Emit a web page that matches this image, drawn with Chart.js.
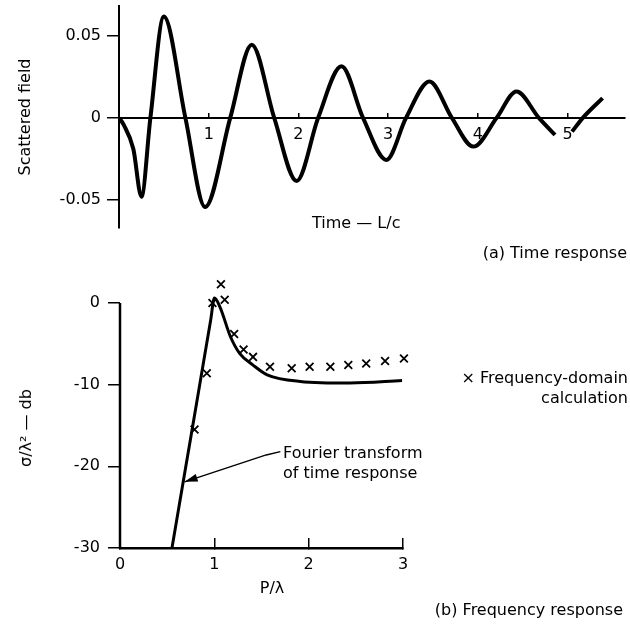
<!DOCTYPE html>
<html>
<head>
<meta charset="utf-8">
<script src="https://cdn.jsdelivr.net/npm/chart.js@4.4.1/dist/chart.umd.min.js"></script>
<style>
  body { margin: 0; background: #fff; }
  #page { position: relative; width: 630px; height: 624px; font-family: "DejaVu Sans", sans-serif; font-size: 16px; color: #000; }
  canvas { position: absolute; left: 0; }
  .lbl { position: absolute; white-space: nowrap; line-height: 20px; }
</style>
</head>
<body>
<div id="page">
  <canvas id="timeChart" width="630" height="260" style="top:0"></canvas>
  <canvas id="freqChart" width="630" height="364" style="top:260px"></canvas>
  <div class="lbl" style="left:312px; top:213px">Time — L/c</div>
  <div class="lbl" style="right:3px; top:243px">(a) Time response</div>
  <div class="lbl" style="left:26px; top:428px; transform:translate(-50%, -50%) rotate(-90deg)">σ/λ² — db</div>
  <div class="lbl" style="right:2px; top:368px; text-align:right">× Frequency-domain<br>calculation</div>
  <div class="lbl" style="left:283px; top:443px">Fourier transform<br>of time response</div>
  <div class="lbl" style="left:272px; top:578px; transform:translateX(-50%)">P/λ</div>
  <div class="lbl" style="right:7px; top:600px">(b) Frequency response</div>
</div>
<script>
// (a) time response (null = break in the trace near "5")
const timeX = [0, 0.05, 0.16, 0.25, 0.35, 0.50, 0.74, 0.96, 1.24, 1.48, 1.73, 1.98, 2.22, 2.48, 2.72,
  2.98, 3.20, 3.46, 3.71, 3.95, 4.21, 4.43, 4.68, 4.86, 4.95, 5.05, 5.17, 5.39];
const timeField = [0, -0.004, -0.019, -0.048, 0, 0.0616, 0, -0.0543, 0, 0.0445, 0, -0.0384, 0, 0.0313, 0,
  -0.0256, 0, 0.0221, 0, -0.0175, 0, 0.016, 0, -0.0104, null, -0.0084, 0, 0.012];
const timeTicksY = [-0.05, 0, 0.05];

// (b) frequency response: Fourier transform of time response (solid line)
const freqX = [0.551, 0.698, 0.845, 0.961, 1.001, 1.06, 1.17, 1.27, 1.41, 1.56, 1.91, 2.44, 2.99];
const freqDb = [-30, -20, -10, -2.1, 0.6, -0.5, -4.1, -6.2, -7.6, -8.8, -9.6, -9.8, -9.5];

// frequency-domain calculation (x markers)
const calcX = [0.79, 0.92, 0.98, 1.07, 1.11, 1.21, 1.31, 1.41, 1.59, 1.82, 2.01, 2.23, 2.42, 2.61, 2.81, 3.01];
const calcDb = [-15.5, -8.6, 0.0, 2.3, 0.4, -3.8, -5.7, -6.6, -7.8, -8.0, -7.8, -7.8, -7.6, -7.4, -7.1, -6.8];
const freqTicksY = [-30, -20, -10, 0];

// arrow from the "Fourier transform" note to the curve, in data units
const noteArrowX = [1.70, 1.55, 0.685];
const noteArrowY = [-18.2, -18.6, -21.9];

const font = { family: "'DejaVu Sans', sans-serif", size: 16 };
Chart.defaults.color = '#000';
Chart.defaults.font = font;

const pts = (xs, ys) => xs.map((x, i) => ({ x: x, y: ys[i] }));

new Chart(document.getElementById('timeChart'), {
  type: 'scatter',
  data: {
    datasets: [{
      data: pts(timeX, timeField),
      showLine: true,
      borderColor: '#000',
      borderWidth: 4,
      pointRadius: 0,
      cubicInterpolationMode: 'monotone',
      spanGaps: false
    }]
  },
  options: {
    responsive: false,
    animation: false,
    devicePixelRatio: 1,
    events: [],
    layout: { padding: { left: 0, right: 5, top: 6, bottom: 32 } },
    plugins: { legend: { display: false }, tooltip: { enabled: false } },
    scales: {
      x: {
        type: 'linear',
        position: { y: 0 },
        min: 0,
        max: 5.64,
        afterFit: s => { s.height = 0; },
        border: { color: '#000', width: 2 },
        grid: { drawOnChartArea: false, color: '#000', lineWidth: 1.5, tickLength: -6 },
        ticks: {
          stepSize: 1,
          includeBounds: false,
          padding: 13,
          maxRotation: 0,
          callback: v => (v === 0 ? '' : v)
        }
      },
      y: {
        position: 'left',
        min: -0.067,
        max: 0.068,
        afterFit: s => { s.width = 119; s.paddingTop = 0; s.paddingBottom = 0; },
        border: { color: '#000', width: 2 },
        grid: { drawOnChartArea: false, color: '#000', lineWidth: 1.5, tickLength: 12 },
        afterBuildTicks: s => { s.ticks = timeTicksY.map(v => ({ value: v })); },
        ticks: {
          padding: 6,
          callback: v => (Math.abs(v) < 1e-9 ? '0' : v.toFixed(2))
        },
        title: { display: true, text: 'Scattered field', font: font, padding: { top: 16, bottom: 0 } }
      }
    }
  }
});

// left axis of (b) only runs from 0 db down; the crosses above 0 still sit inside the plot area
const freqAxis = {
  id: 'freqAxis',
  beforeDatasetsDraw(chart) {
    const { ctx, scales: { x, y } } = chart;
    ctx.save();
    ctx.strokeStyle = '#000';
    ctx.lineWidth = 2.5;
    ctx.beginPath();
    ctx.moveTo(x.left, y.getPixelForValue(0));
    ctx.lineTo(x.left, y.getPixelForValue(-30) + 1);
    ctx.stroke();
    ctx.restore();
  }
};

const arrowNote = {
  id: 'arrowNote',
  afterDatasetsDraw(chart) {
    const { ctx, scales: { x, y } } = chart;
    const p = noteArrowX.map((v, i) => [x.getPixelForValue(v), y.getPixelForValue(noteArrowY[i])]);
    ctx.save();
    ctx.strokeStyle = '#000';
    ctx.fillStyle = '#000';
    ctx.lineWidth = 1.5;
    ctx.beginPath();
    p.forEach(([px, py], i) => (i ? ctx.lineTo(px, py) : ctx.moveTo(px, py)));
    ctx.stroke();
    const [x1, y1] = p[p.length - 2];
    const [x2, y2] = p[p.length - 1];
    const a = Math.atan2(y2 - y1, x2 - x1);
    ctx.beginPath();
    ctx.moveTo(x2, y2);
    ctx.lineTo(x2 - 13 * Math.cos(a) + 4 * Math.sin(a), y2 - 13 * Math.sin(a) - 4 * Math.cos(a));
    ctx.lineTo(x2 - 13 * Math.cos(a) - 4 * Math.sin(a), y2 - 13 * Math.sin(a) + 4 * Math.cos(a));
    ctx.closePath();
    ctx.fill();
    ctx.restore();
  }
};

new Chart(document.getElementById('freqChart'), {
  type: 'scatter',
  data: {
    datasets: [{
      label: 'Fourier transform of time response',
      data: pts(freqX, freqDb),
      showLine: true,
      borderColor: '#000',
      borderWidth: 3,
      pointRadius: 0,
      cubicInterpolationMode: 'monotone'
    }, {
      label: 'Frequency-domain calculation',
      data: pts(calcX, calcDb),
      pointStyle: 'crossRot',
      pointRadius: 5.5,
      borderColor: '#000',
      borderWidth: 1.8,
      clip: false
    }]
  },
  options: {
    responsive: false,
    animation: false,
    devicePixelRatio: 1,
    events: [],
    layout: { padding: { left: 0, right: 227, top: 18.5, bottom: 36 } },
    plugins: { legend: { display: false }, tooltip: { enabled: false } },
    scales: {
      x: {
        type: 'linear',
        position: 'bottom',
        min: 0,
        max: 3,
        afterFit: s => { s.height = 40; },
        border: { color: '#000', width: 2.5 },
        grid: { drawOnChartArea: false, color: '#000', lineWidth: 1.5, tickLength: -10 },
        ticks: { stepSize: 1, padding: 17, maxRotation: 0 }
      },
      y: {
        position: 'left',
        min: -30,
        max: 3,
        afterFit: s => { s.width = 120; s.paddingTop = 0; s.paddingBottom = 0; },
        border: { display: false },
        grid: { drawOnChartArea: false, color: '#000', lineWidth: 1.5, tickLength: 12 },
        afterBuildTicks: s => { s.ticks = freqTicksY.map(v => ({ value: v })); },
        ticks: { padding: 8 }
      }
    }
  },
  plugins: [freqAxis, arrowNote]
});
</script>
</body>
</html>
